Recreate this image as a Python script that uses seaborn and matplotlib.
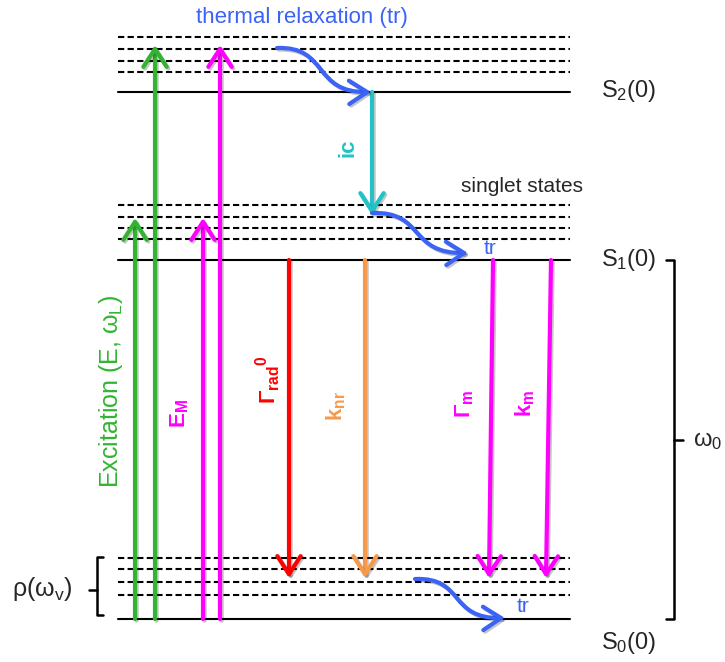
import numpy as np
import pandas as pd
import matplotlib
matplotlib.use("Agg")
import matplotlib.pyplot as plt
import matplotlib.patheffects as pe
from matplotlib.path import Path
from matplotlib.patches import FancyArrowPatch
import seaborn as sns

sns.set_theme(style="white")
plt.rcParams["font.family"] = ["Liberation Sans", "DejaVu Sans"]
plt.rcParams["mathtext.fontset"] = "custom"
plt.rcParams["mathtext.rm"] = "Liberation Sans"
plt.rcParams["mathtext.it"] = "Liberation Sans:italic"
plt.rcParams["mathtext.bf"] = "Liberation Sans:bold"

# energy levels (vertical position, px from top) -------------------------
level_names = ["S2", "S1", "S0"]
solid_levels = [92, 260, 619]
dashed_levels = {
    "S2": [37, 49, 61, 72],
    "S1": [205, 217, 228, 239],
    "S0": [558, 569, 582, 595],
}
level_x = [118, 570]
level_labels = ["S$_2$(0)", "S$_1$(0)", "S$_0$(0)"]
label_y = [91, 260, 643]

# transitions: x position, start, end ----------------------------------
up_x = [135, 155, 203, 220]
up_top = [218, 45, 218, 45]
up_colors = ["#32b432", "#32b432", "#ff00ff", "#ff00ff"]

down_x_start = [289, 365, 493, 551]
down_x_end = [289, 365, 489, 546]
down_colors = ["#ff0000", "#f59a4b", "#ff00ff", "#ff00ff"]
down_end = 578

ic_x = 372
ic_color = "#1fc3c8"
blue = "#3b63f5"

# thermal relaxation curves: start -> end
tr_start = [(277, 48), (372, 213), (415, 579)]
tr_end = [(371, 92), (468, 253), (505, 618)]

fig = plt.figure(figsize=(7.25, 6.62), dpi=100)
ax = fig.add_axes([0, 0, 1, 1])

# levels via seaborn
rows = []
for name, y in zip(level_names, solid_levels):
    for x in level_x:
        rows.append({"x": x, "y": y, "level": name + "_s", "kind": "solid"})
for name in level_names:
    for i, y in enumerate(dashed_levels[name]):
        for x in level_x:
            rows.append({"x": x, "y": y, "level": f"{name}_d{i}", "kind": "dashed"})
levels = pd.DataFrame(rows)
sns.lineplot(data=levels, x="x", y="y", units="level", estimator=None,
             style="kind", dashes={"solid": "", "dashed": (3, 1.6)},
             color="black", lw=1.5, sort=False, legend=False, ax=ax)

shadow = [pe.SimpleLineShadow(offset=(1.2, -1.2), alpha=0.25), pe.Normal()]
astyle = "->,head_length=0.65,head_width=0.42"


def arrow(x0, y0, x1, y1, color):
    a = FancyArrowPatch((x0, y0), (x1, y1), arrowstyle=astyle, mutation_scale=20,
                        color=color, lw=3, shrinkA=0, shrinkB=0, zorder=4)
    a.set_path_effects(shadow)
    ax.add_patch(a)


for x, top, c in zip(up_x, up_top, up_colors):
    arrow(x, solid_levels[2], x, top, c)
for x0, x1, c in zip(down_x_start, down_x_end, down_colors):
    arrow(x0, solid_levels[1], x1, down_end, c)
arrow(ic_x, solid_levels[0], ic_x, 215, ic_color)

for (x0, y0), (x1, y1) in zip(tr_start, tr_end):
    mx = (x0 + x1) / 2
    verts = [(x0, y0), (mx + 5, y0 - 2), (mx - 12, y1 + 1), (x1, y1)]
    p = Path(verts, [Path.MOVETO, Path.CURVE4, Path.CURVE4, Path.CURVE4])
    a = FancyArrowPatch(path=p, arrowstyle=astyle, mutation_scale=20,
                        color=blue, lw=3, zorder=5)
    a.set_path_effects(shadow)
    ax.add_patch(a)

# texts
for y, lab in zip(label_y, level_labels):
    ax.text(601, y, lab, fontsize=17, va="center", ha="left")

ax.text(302, 17, "thermal relaxation (tr)", color=blue, fontsize=16,
        ha="center", va="center")
ax.text(522, 186, "singlet states", fontsize=15, ha="center", va="center")
ax.text(490, 249, "tr", color=blue, fontsize=15, ha="center", va="center")
ax.text(523, 607, "tr", color=blue, fontsize=15, ha="center", va="center")

ax.text(348, 148, "ic", color=ic_color, fontsize=16, fontweight="bold",
        rotation=90, ha="center", va="center")
ax.text(111, 391, "Excitation (E, ω$_\\mathrm{L}$)", color="#32b432", fontsize=18,
        rotation=90, ha="center", va="center")
ax.text(180, 414, "E$_\\mathbf{M}$", color="#ff00ff", fontsize=16,
        fontweight="bold", rotation=90, ha="center", va="center")
ax.text(268, 380, "Γ$_\\mathbf{rad}$$^\\mathbf{0}$", color="#ff0000", fontsize=16,
        fontweight="bold", rotation=90, ha="center", va="center")
ax.text(336, 406, "k$_\\mathbf{nr}$", color="#f59a4b", fontsize=16,
        fontweight="bold", rotation=90, ha="center", va="center")
ax.text(465, 404, "Γ$_\\mathbf{m}$", color="#ff00ff", fontsize=16,
        fontweight="bold", rotation=90, ha="center", va="center")
ax.text(525, 403, "k$_\\mathbf{m}$", color="#ff00ff", fontsize=16,
        fontweight="bold", rotation=90, ha="center", va="center")

# brackets
ax.plot([103, 97, 97, 103], [557, 557, 615, 615], color="black", lw=1.8)
ax.plot([97, 89], [590, 590], color="black", lw=1.8)
ax.text(42, 589, "ρ(ω$_\\mathrm{v}$)", fontsize=18, ha="center", va="center")

ax.plot([666, 674, 674, 666], [260, 260, 619, 619], color="black", lw=1.8)
ax.plot([674, 683], [440, 440], color="black", lw=1.8)
ax.text(693, 441, "ω$_0$", fontsize=17, ha="left", va="center")

ax.set_xlim(0, 725)
ax.set_ylim(662, 0)
ax.axis("off")

fig.savefig("out.png", dpi=100)
